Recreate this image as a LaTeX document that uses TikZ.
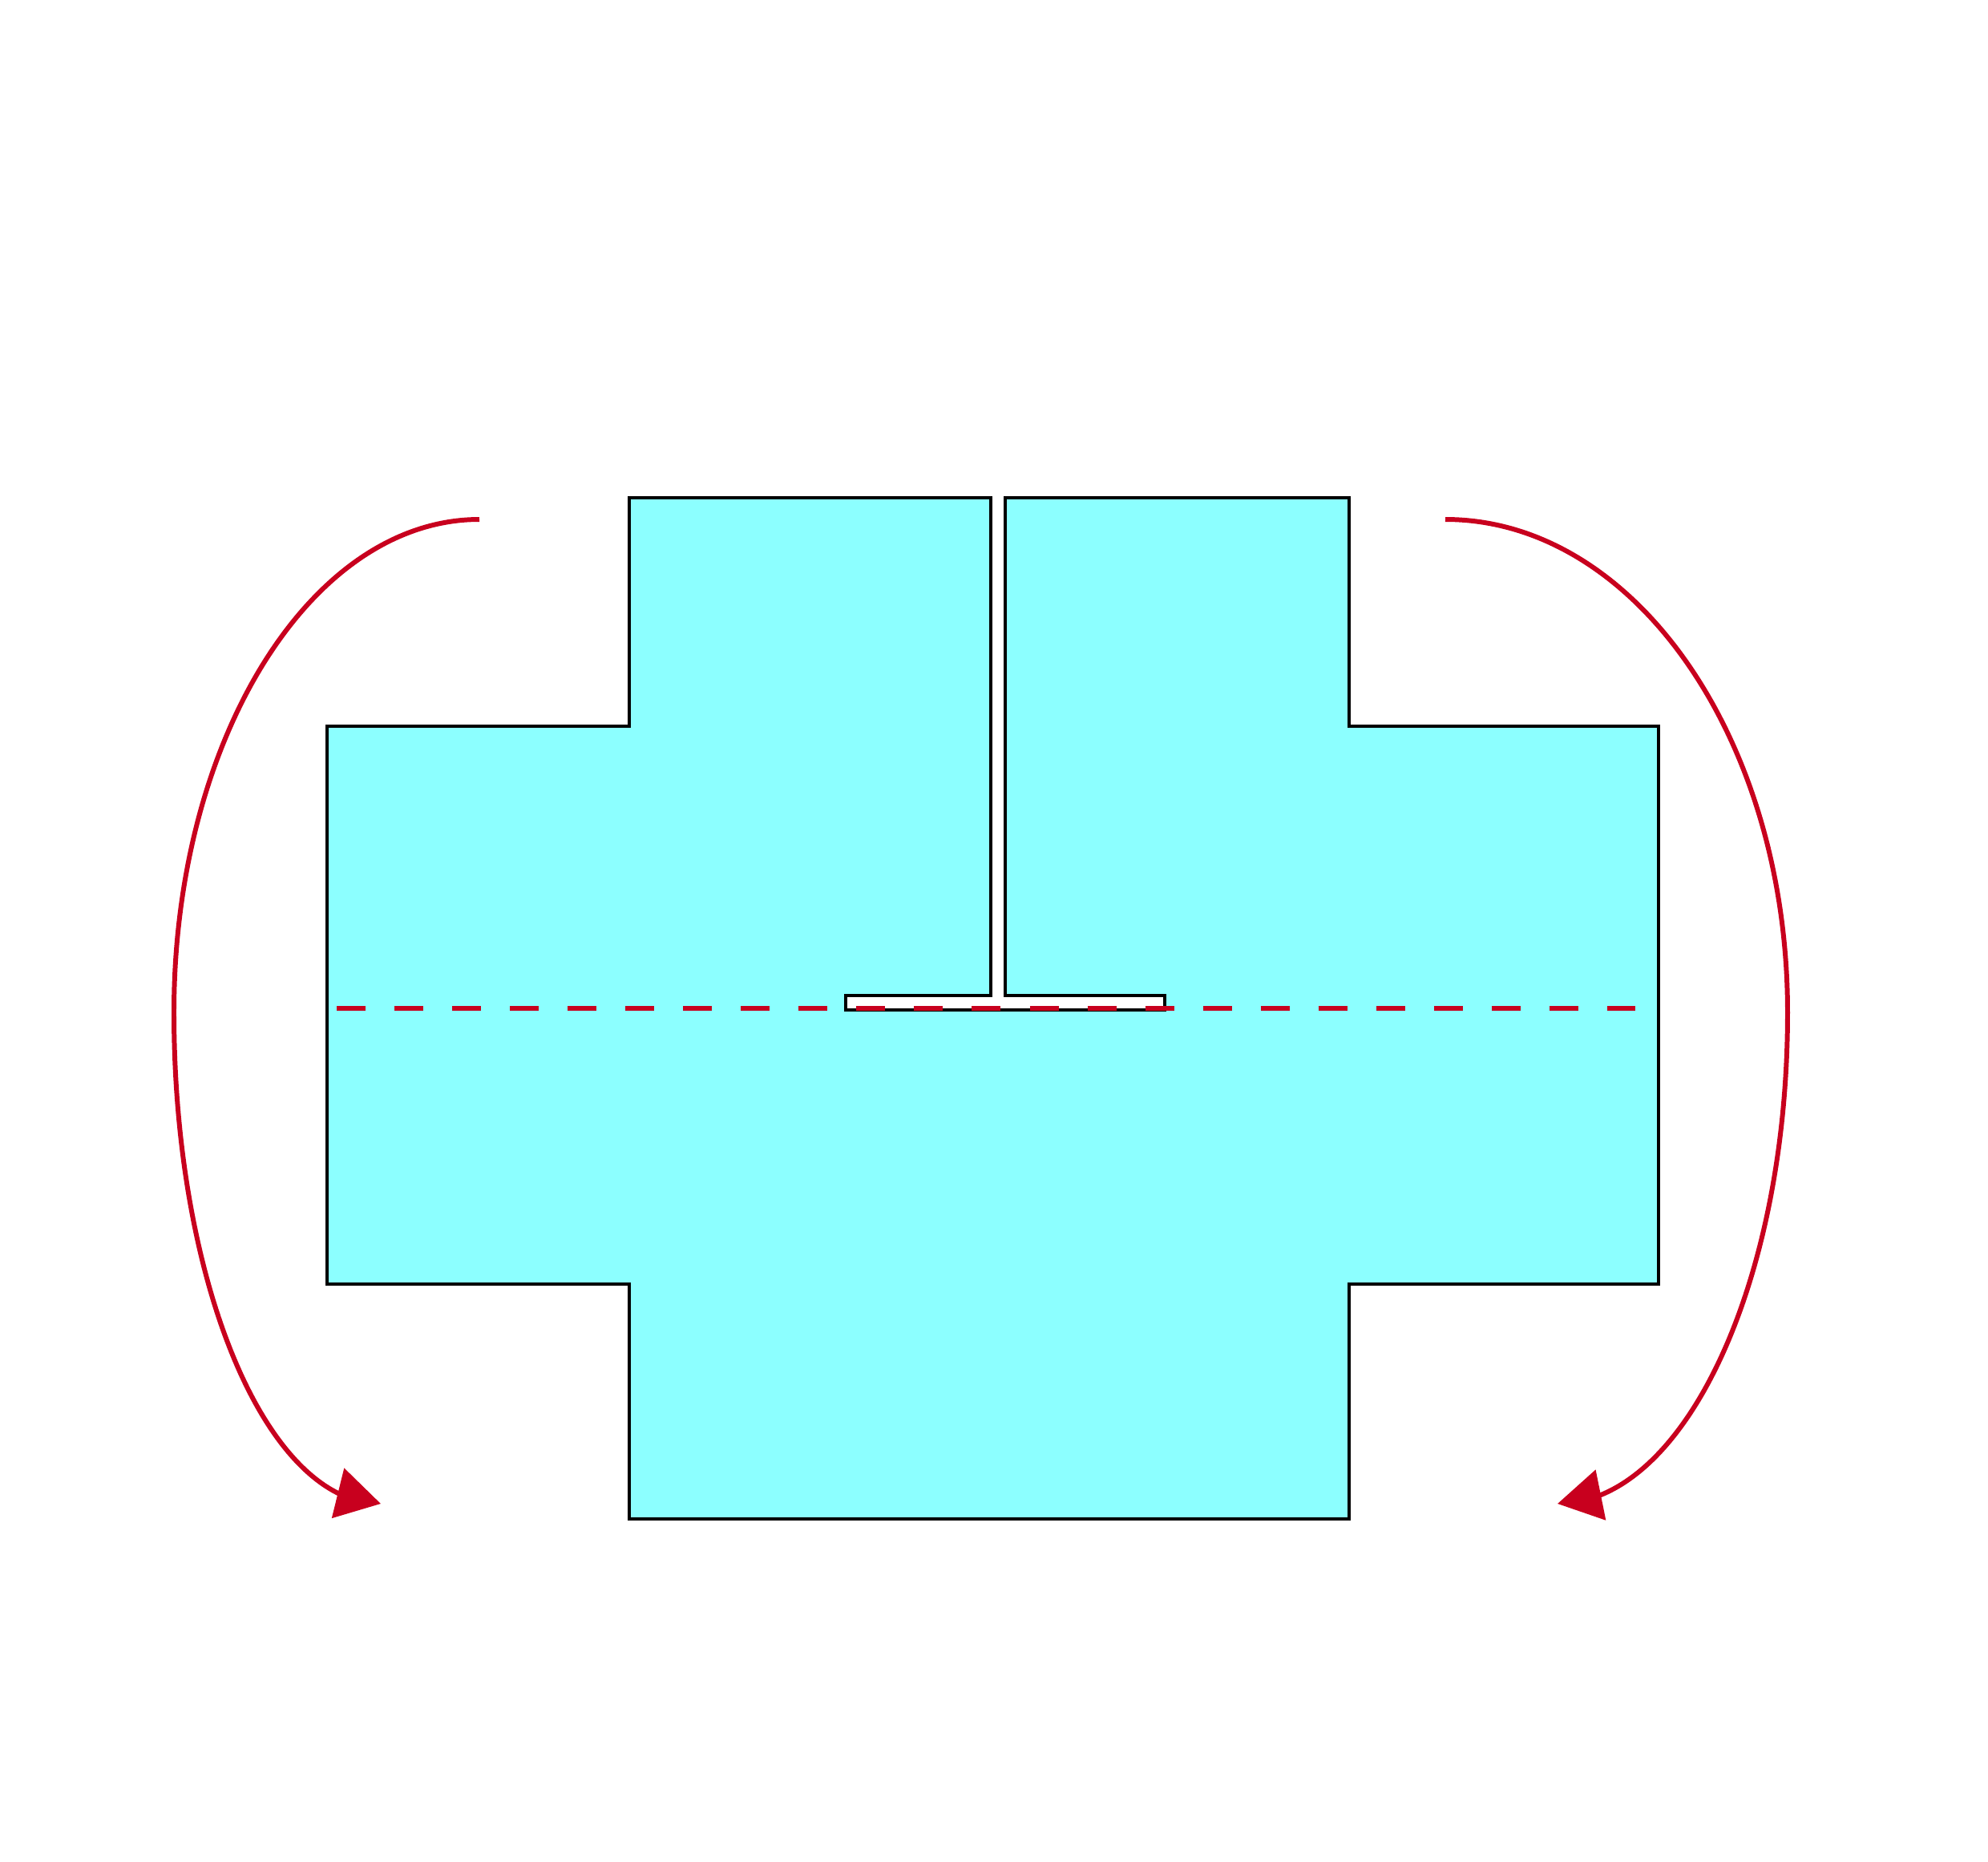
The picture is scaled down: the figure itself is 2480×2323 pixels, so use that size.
\documentclass[tikz,border=0pt]{standalone}
\usetikzlibrary{arrows.meta,bending}
\definecolor{shapecyan}{RGB}{140,255,255}
\definecolor{arrowred}{RGB}{200,0,30}
\tikzset{
  body/.style={fill=shapecyan,draw=black,line width=0.9pt,line join=miter},
  midline/.style={draw=arrowred,line width=1.5pt,dash pattern=on 0.36cm off 0.36cm},
  turn/.style={draw=arrowred,line width=1.7pt,-{Triangle[length=0.55cm,width=0.63cm,flex]}}
}
\begin{document}
\begin{tikzpicture}[x=0.01cm,y=-0.01cm]
\useasboundingbox (0,0) rectangle (2480,2323);
\path[body] (785,621) -- (1236,621) -- (1236,1242) -- (1055,1242) -- (1055,1260)
  -- (1453,1260) -- (1453,1242) -- (1254,1242) -- (1254,621) -- (1683,621)
  -- (1683,906) -- (2069,906) -- (2069,1602) -- (1683,1602) -- (1683,1895)
  -- (785,1895) -- (785,1602) -- (408,1602) -- (408,906) -- (785,906) -- cycle;
\coordinate (ls) at (420,1258);
\coordinate (le) at (2040,1258);
\draw[midline] (ls) -- (le);
\coordinate (a1) at (598,648);
\coordinate (a2) at (217,1263);
\coordinate (a3) at (475,1876);
\draw[turn] (a1) .. controls (388,648) and (217,922) .. (a2)
  .. controls (217,1600) and (332,1876) .. (a3);
\coordinate (b1) at (1803,648);
\coordinate (b2) at (2230,1263);
\coordinate (b3) at (1943,1876);
\draw[turn] (b1) .. controls (2039,648) and (2230,922) .. (b2)
  .. controls (2230,1600) and (2101,1876) .. (b3);
\end{tikzpicture}
\end{document}
